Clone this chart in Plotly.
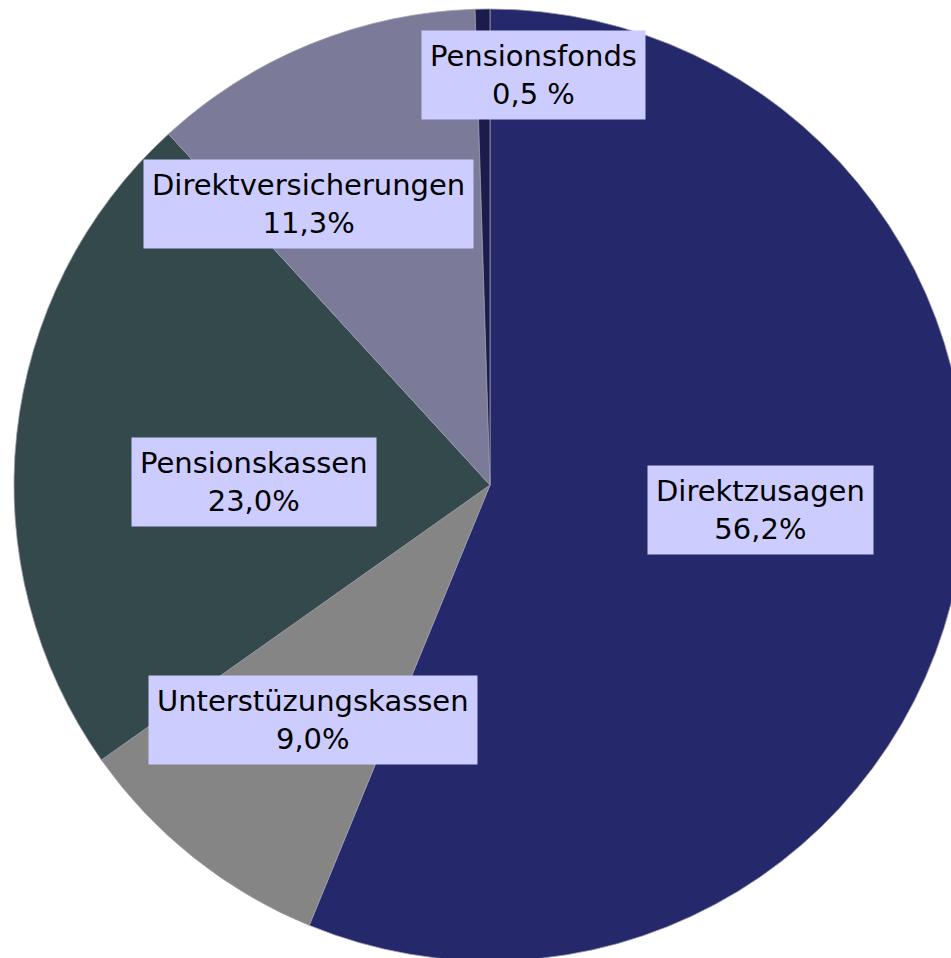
import plotly.graph_objects as go

categories = ["Direktzusagen", "Unterstüzungskassen", "Pensionskassen", "Direktversicherungen", "Pensionsfonds"]
values = [56.2, 9.0, 23.0, 11.3, 0.5]
value_labels = ["56,2%", "9,0%", "23,0%", "11,3%", "0,5 %"]
colors = ["#25286a", "#858585", "#34494c", "#7b7b99", "#1b1b4c"]

# label box centres in pixels (layout only)
label_pos = [(760, 510), (313, 720), (254, 482), (308, 204), (533, 75)]

W, H = 975, 975
cx, cy, r = 490, 485, 476

fig = go.Figure(go.Pie(
    labels=categories,
    values=values,
    sort=False,
    direction="clockwise",
    rotation=0,
    marker=dict(colors=colors, line=dict(color="#9a9aaa", width=0.8)),
    textinfo="none",
    hoverinfo="label+percent",
    showlegend=False,
    domain=dict(x=[(cx - r) / W, (cx + r) / W], y=[1 - (cy + r) / H, 1 - (cy - r) / H]),
))

for cat, vl, (px, py) in zip(categories, value_labels, label_pos):
    fig.add_annotation(
        x=px / W, y=1 - py / H, xref="paper", yref="paper",
        text=f"{cat}<br>{vl}", showarrow=False,
        xanchor="center", yanchor="middle", align="center",
        font=dict(family="DejaVu Sans", size=29, color="#000000"),
        bgcolor="#ccccff", borderpad=8,
    )

fig.update_layout(
    width=W, height=H,
    margin=dict(l=0, r=0, t=0, b=0),
    paper_bgcolor="white", plot_bgcolor="white",
)

fig.write_html(
    "out.html",
    config={"displayModeBar": False},
    post_script="document.body.style.margin='0';document.body.style.overflow='hidden';",
)
